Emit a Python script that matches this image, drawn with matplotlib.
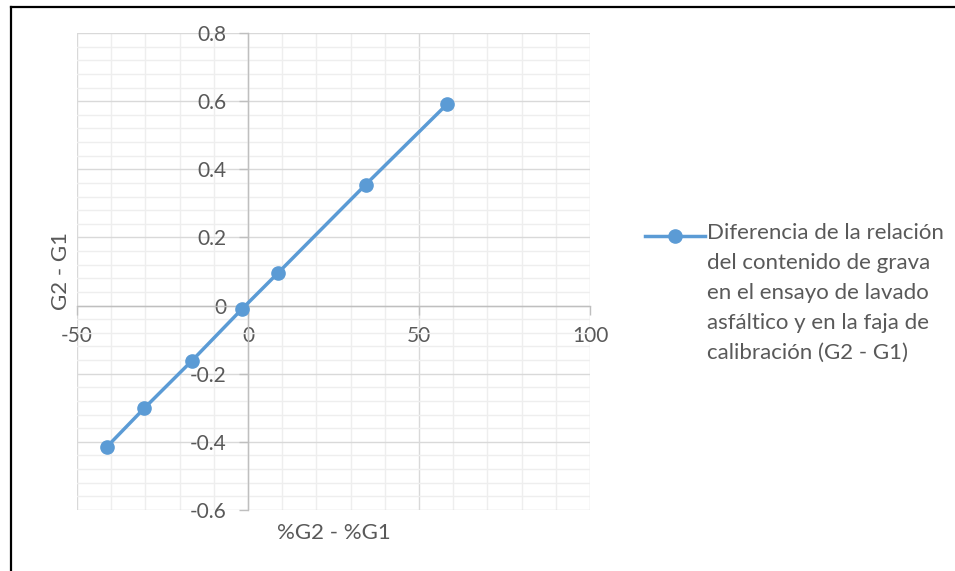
import matplotlib
matplotlib.use("Agg")
import matplotlib.pyplot as plt
from matplotlib.lines import Line2D
from matplotlib.legend_handler import HandlerLine2D
from matplotlib.transforms import Affine2D
from matplotlib.ticker import MultipleLocator, FormatStrFormatter

# %G2 - %G1 against G2 - G1
dif_pct = [-41.3, -30.4, -16.5, -1.75, 8.7, 34.4, 58.3]
dif_g = [-0.415, -0.302, -0.163, -0.010, 0.095, 0.355, 0.592]
serie = ("Diferencia de la relación\ndel contenido de grava\n"
         "en el ensayo de lavado\nasfáltico y en la faja de\n"
         "calibración (G2 - G1)")

azul = "#5B9BD5"
gris_txt = "#595959"
plt.rcParams["font.family"] = ["Lato", "DejaVu Sans"]


class HandlerArriba(HandlerLine2D):
    # lleva la muestra de la leyenda a la altura de la primera linea
    def __init__(self, lift, **kw):
        super().__init__(**kw)
        self.lift = lift

    def create_artists(self, legend, orig_handle, xdescent, ydescent,
                       width, height, fontsize, trans):
        arts = super().create_artists(legend, orig_handle, xdescent, ydescent,
                                      width, height, fontsize, trans)
        t = Affine2D().translate(0, self.lift) + trans
        for a in arts:
            a.set_transform(t)
        return arts


fig = plt.figure(figsize=(9.55, 5.71), dpi=100)
ax = fig.add_axes([77 / 955, 1 - 510 / 571, 513 / 955, 477 / 571])

linea, = ax.plot(dif_pct, dif_g, color=azul, lw=2.5, marker="o", ms=9.5,
                 label=serie, zorder=5, clip_on=False)

ax.set_xlim(-50, 100)
ax.set_ylim(-0.6, 0.8)
ax.xaxis.set_major_locator(MultipleLocator(50))
ax.xaxis.set_minor_locator(MultipleLocator(10))
ax.yaxis.set_major_locator(MultipleLocator(0.2))
ax.yaxis.set_minor_locator(MultipleLocator(0.04))
ax.yaxis.set_major_formatter(FormatStrFormatter("%g"))
ax.xaxis.set_major_formatter(FormatStrFormatter("%g"))

ax.grid(which="major", color="#d9d9d9", lw=1.0)
ax.grid(which="minor", color="#eeeeee", lw=1.0)
ax.set_axisbelow(True)

for lado in ("top", "right"):
    ax.spines[lado].set_visible(False)
for lado in ("left", "bottom"):
    ax.spines[lado].set_position(("data", 0))
    ax.spines[lado].set_color("#bfbfbf")
    ax.spines[lado].set_linewidth(1.0)

ax.tick_params(which="major", length=6.5, width=1.0, color="#bfbfbf",
               labelcolor=gris_txt, labelsize=15)
ax.tick_params(axis="y", pad=9)
ax.tick_params(axis="x", pad=8)
ax.tick_params(which="minor", length=0)

ax.set_xlabel("%G2 - %G1", fontsize=16, color=gris_txt)
ax.set_ylabel("G2 - G1", fontsize=16, color=gris_txt)
ax.xaxis.set_label_coords(0.5, -0.027)
ax.yaxis.set_label_coords(-0.012, 0.5)

leg = fig.legend(handles=[linea], loc="center left",
                 bbox_to_anchor=(645 / 955, 1 - 293 / 571),
                 frameon=False, fontsize=16, handlelength=2.7,
                 handletextpad=0.08, borderpad=0, borderaxespad=0,
                 handler_map={linea: HandlerArriba(41.0)})
for t in leg.get_texts():
    t.set_color(gris_txt)
    t.set_linespacing(1.61)

# borde de la captura (arriba e izquierda)
fig.add_artist(Line2D([11 / 955, 1], [1 - 7 / 571, 1 - 7 / 571],
                      color="black", lw=1.6, transform=fig.transFigure))
fig.add_artist(Line2D([11 / 955, 11 / 955], [0, 1 - 7 / 571],
                      color="black", lw=1.6, transform=fig.transFigure))

fig.savefig("out.png", dpi=100)
